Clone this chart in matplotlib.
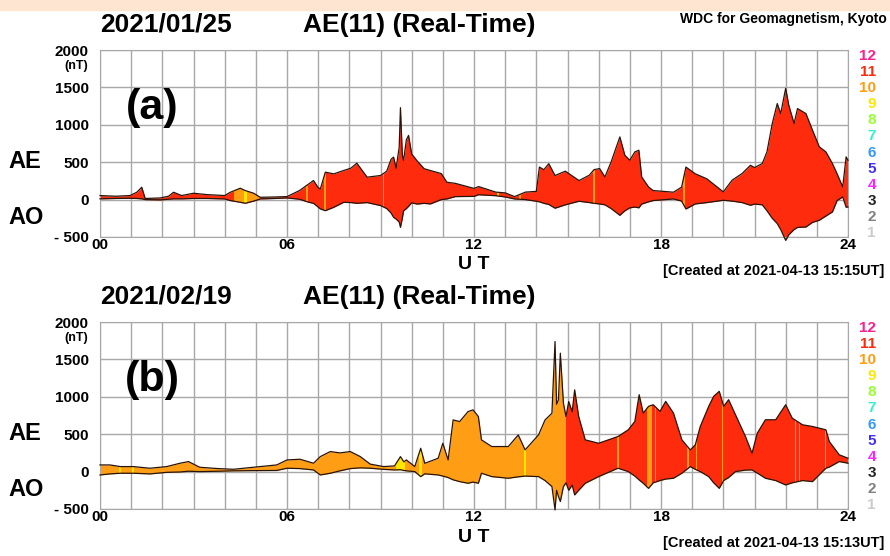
import matplotlib
matplotlib.use("Agg")
import matplotlib.pyplot as plt
from matplotlib.patches import Rectangle

plt.rcParams['font.family'] = ['Liberation Sans', 'DejaVu Sans']
plt.rcParams['font.weight'] = 'bold'

# ---------------- data (UT hours, nT) ----------------
# (a) 2021/01/25
t_a = [0.0, 0.5, 0.96, 1.18, 1.34, 1.45, 1.93, 2.2, 2.36, 2.62, 3.0, 3.43, 4.0, 4.18, 4.5,
       4.66, 4.93, 5.14, 5.6, 6.0, 6.4, 6.7, 6.85, 7.0, 7.07, 7.23, 7.5, 7.82, 8.05, 8.24,
       8.57, 9.0, 9.2, 9.34, 9.42, 9.5, 9.6, 9.64, 9.7, 9.74, 9.83, 9.9, 10.0, 10.17, 10.4,
       10.6, 10.95, 11.13, 11.4, 12.0, 12.15, 12.7, 13.0, 13.3, 13.65, 14.0, 14.1, 14.24, 14.4,
       14.6, 14.93, 15.37, 15.7, 15.85, 16.03, 16.2, 16.4, 16.68, 16.84, 17.0, 17.16, 17.29,
       17.38, 17.6, 17.75, 18.4, 18.66, 18.8, 19.1, 19.47, 20.0, 20.28, 20.6, 20.87, 21.0,
       21.25, 21.4, 21.57, 21.73, 21.84, 22.0, 22.1, 22.27, 22.38, 22.65, 22.86, 23.08,
       23.29, 23.5, 23.65, 23.83, 23.94, 24.0]
au_a = [54, 45, 54, 98, 165, 15, 22, 45, 98, 54, 85, 67, 54, 98, 152,
        121, 85, 31, 35, 40, 121, 210, 255, 160, 143, 367, 344, 389, 420, 487,
        300, 322, 380, 540, 568, 420, 700, 1229, 600, 523, 800, 858, 610, 520, 413,
        389, 348, 232, 217, 150, 174, 100, 90, 40, 100, 110, 435, 400, 480,
        322, 380, 255, 326, 400, 415, 303, 504, 838, 593, 526, 638, 660,
        303, 169, 121, 99, 166, 435, 345, 278, 103, 259, 348, 459, 428,
        482, 638, 1017, 1284, 1150, 1487, 1262, 1017, 1217, 1150, 928, 705,
        638, 482, 345, 169, 571, 526]
al_a = [10, 15, 18, 15, 10, 0, -4, 5, 10, 10, 15, 15, 9, -13, -36,
        -49, -20, 9, 15, 22, 5, -36, -50, -100, -125, -148, -103, -36, -40, -50,
        -40, -80, -120, -180, -237, -260, -300, -371, -250, -150, -120, -90, -43, -60, -50,
        -58, 0, 9, 40, 43, 65, 52, 35, 9, 0, -22, -30, -50, -65,
        -115, -70, -22, -40, -50, -58, -70, -120, -210, -150, -110, -100, -110,
        -60, -30, -13, 9, -20, -125, -58, -40, -9, -20, -40, -76, -60,
        -70, -150, -250, -321, -400, -545, -470, -400, -372, -366, -305, -276,
        -220, -165, -13, 36, -103, -98]
# number of stations: base value, then (start, end, n) bands
n_base_a = 11
bands_a = [(4.3, 5.15, 10), (4.62, 4.72, 9), (6.62, 6.68, 10), (7.18, 7.24, 10),
           (9.08, 9.12, 10), (12.75, 12.8, 9), (13.45, 13.5, 10), (15.83, 15.87, 10),
           (18.7, 18.76, 10)]

# (b) 2021/02/19
t_b = [0.0, 0.32, 0.65, 1.07, 1.6, 2.14, 2.57, 2.84, 3.2, 3.8, 4.28, 4.92, 5.67, 6.0, 6.42,
       6.85, 7.07, 7.39, 7.7, 8.03, 8.35, 8.67, 9.1, 9.45, 9.64, 9.75, 9.83, 10.1, 10.29,
       10.42, 10.85, 11.0, 11.17, 11.33, 11.54, 11.81, 11.97, 12.14, 12.24, 12.57, 13.1,
       13.42, 13.64, 14.07, 14.28, 14.5, 14.6, 14.65, 14.71, 14.77, 14.87, 14.95, 15.04,
       15.15, 15.23, 15.36, 15.57, 16.0, 16.62, 16.95, 17.16, 17.3, 17.43, 17.6, 17.75,
       17.97, 18.15, 18.4, 18.67, 18.94, 19.1, 19.26, 19.53, 19.69, 19.87, 20.01, 20.17,
       20.39, 20.71, 20.92, 21.09, 21.35, 21.68, 22.0, 22.21, 22.54, 22.86, 23.29, 23.4,
       23.72, 24.0]
au_b = [89, 89, 67, 67, 45, 67, 112, 134, 58, 40, 31, 58, 89, 156, 165,
        112, 201, 268, 250, 268, 201, 100, 67, 76, 200, 130, 156, 67, 312,
        111, 178, 379, 156, 691, 669, 803, 825, 736, 424, 335, 335,
        490, 290, 490, 691, 780, 1739, 900, 959, 1583, 914, 736, 937,
        800, 1093, 736, 424, 379, 469, 559, 670, 1028, 782, 872, 894,
        805, 939, 782, 425, 290, 358, 603, 872, 1006, 1073, 872, 961,
        760, 469, 246, 514, 693, 693, 894, 715, 626, 603, 559, 402,
        224, 179]
al_b = [-45, -31, -22, -22, -31, -10, -5, 5, 0, 5, 10, 13, 15, 45, 40,
        22, -45, -22, 10, 40, 50, 45, 30, 22, 25, 15, 10, 0, -67,
        -30, -45, -60, -80, -110, -134, -156, -140, -156, -22, -67, -89,
        -70, -60, -67, -120, -200, -513, -250, -334, -400, -200, -150, -250,
        -180, -312, -250, -156, -67, 45, 0, -60, -112, -156, -224, -150,
        -120, -100, -89, -22, 67, 30, 0, -67, -150, -224, -120, -80,
        0, 20, 22, -20, -89, -120, -179, -150, -120, -134, 45, 60,
        134, 112]
n_base_b = 10
bands_b = [(0.6, 0.68, 9), (1.02, 1.1, 9), (9.5, 9.78, 9), (10.25, 10.32, 9), (13.6, 13.66, 9),
           (14.95, 24.0, 11), (16.6, 16.65, 10), (17.55, 17.72, 10), (17.8, 17.84, 10),
           (18.85, 18.9, 10), (19.12, 19.16, 10), (19.95, 19.99, 10), (22.3, 22.34, 10),
           (22.42, 22.46, 10), (23.25, 23.3, 10)]

station_counts = [12, 11, 10, 9, 8, 7, 6, 5, 4, 3, 2, 1]
station_colors = ['#ff1f8f', '#ff2b0d', '#ff9d14', '#ffe600', '#99ff33', '#33f0d0',
                  '#3399ff', '#4430ff', '#ff22ff', '#222222', '#808080', '#cccccc']
col = dict(zip(station_counts, station_colors))

W, H = 890, 556
fig = plt.figure(figsize=(W / 100, H / 100), dpi=100)


def fx(x):
    return x / W


def fy(y):
    return 1 - y / H


# peach band at the very top
fig.patches.append(Rectangle((0, fy(10)), 1, 10 / H, transform=fig.transFigure,
                             color='#fde5d1', zorder=0))
fig.text(fx(887), fy(19), 'WDC for Geomagnetism, Kyoto', ha='right', va='center', fontsize=10)


def panel(top, t, au, al, n_base, bands, date, created, tag):
    ax = fig.add_axes([fx(100), fy(top + 187), fx(748), 187 / H])
    ax.set_xlim(0, 24)
    ax.set_ylim(-500, 2000)
    ax.set_xticks([0, 6, 12, 18, 24])
    ax.set_xticklabels(['00', '06', '12', '18', '24'], fontsize=11)
    ax.set_xticks(range(25), minor=True)
    ax.set_yticks([-500, 0, 500, 1000, 1500, 2000])
    ax.set_yticklabels(['- 500', '0', '500', '1000', '1500', '2000'], fontsize=11)
    ax.tick_params(which='both', length=0)
    ax.tick_params(axis='y', pad=8)
    ax.tick_params(axis='x', pad=1)
    ax.grid(True, which='both', color='#a8a8a8', lw=1)
    ax.set_axisbelow(True)
    for s in ax.spines.values():
        s.set_color('#a8a8a8')

    poly = ax.fill_between(t, al, au, color=col[n_base], lw=0, zorder=2, clip_on=False)
    clip = poly.get_paths()[0]
    for s, e, n in bands:
        r = ax.axvspan(s, e, color=col[n], lw=0, zorder=2.5)
        r.set_clip_path(clip, ax.transData)
    ax.plot(t, au, color='#2a140a', lw=0.9, zorder=4, clip_on=False)
    ax.plot(t, al, color='#2a140a', lw=0.9, zorder=4, clip_on=False)

    fig.text(fx(100), fy(top - 25), date, ha='left', va='center', fontsize=19)
    fig.text(fx(303), fy(top - 25), 'AE(11) (Real-Time)', ha='left', va='center', fontsize=19)
    fig.text(fx(76), fy(top + 16), '(nT)', ha='center', va='center', fontsize=9)
    fig.text(fx(8), fy(top + 112), 'AE', ha='left', va='center', fontsize=17)
    fig.text(fx(8), fy(top + 167), 'AO', ha='left', va='center', fontsize=17)
    fig.text(fx(152), fy(top + 58), tag, ha='center', va='center', fontsize=31)
    fig.text(fx(474), fy(top + 215), 'U T', ha='center', va='center', fontsize=14)
    fig.text(fx(884), fy(top + 221), created, ha='right', va='center', fontsize=10.5)
    for i, (n, c) in enumerate(zip(station_counts, station_colors)):
        fig.text(fx(876), fy(top + 6 + i * 16.1), str(n), color=c, ha='right',
                 va='center', fontsize=11)
    return ax


panel(50, t_a, au_a, al_a, n_base_a, bands_a, '2021/01/25',
      '[Created at 2021-04-13 15:15UT]', '(a)')
panel(322, t_b, au_b, al_b, n_base_b, bands_b, '2021/02/19',
      '[Created at 2021-04-13 15:13UT]', '(b)')

fig.savefig('out.png', dpi=100)
